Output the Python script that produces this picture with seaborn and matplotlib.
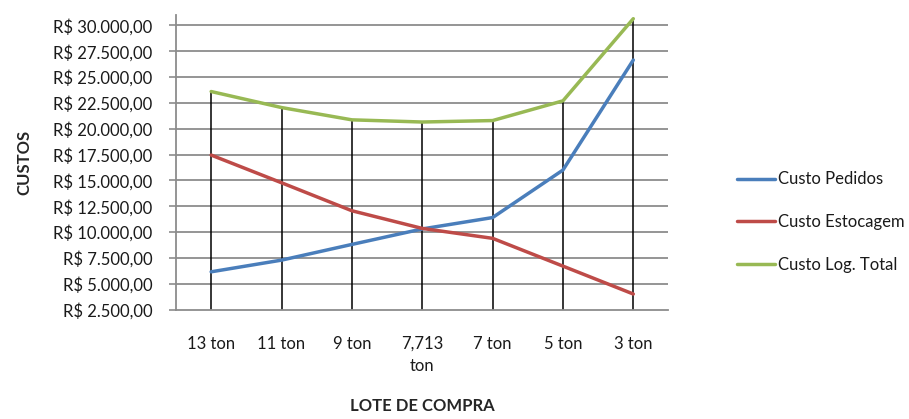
import pandas as pd
import numpy as np
import seaborn as sns
import matplotlib.pyplot as plt

# data
lotes = ['13 ton', '11 ton', '9 ton', '7,713\nton', '7 ton', '5 ton', '3 ton']
custo_pedidos = [6150, 7280, 8800, 10300, 11400, 16000, 26650]
custo_estocagem = [17450, 14770, 12060, 10350, 9390, 6700, 4000]
custo_total = [23600, 22050, 20860, 20650, 20790, 22700, 30650]
series_names = ['Custo Pedidos', 'Custo Estocagem', 'Custo Log. Total']
y_ticks = [2500, 5000, 7500, 10000, 12500, 15000, 17500, 20000,
           22500, 25000, 27500, 30000]

colors = ['#4A7EBB', '#BE4B48', '#98B954']

df = pd.DataFrame({
    'lote': lotes * 3,
    'custo': custo_pedidos + custo_estocagem + custo_total,
    'serie': [s for s in series_names for _ in lotes],
})

sns.set_style('white')
plt.rcParams['font.family'] = ['Lato', 'DejaVu Sans']
plt.rcParams['text.color'] = '#1a1a1a'


def brl(v):
    s = f'{v:,.2f}'
    s = s.replace(',', 'X').replace('.', ',').replace('X', '.')
    return f'R$ {s}'


fig = plt.figure(figsize=(9.09, 4.19), dpi=100)
ax = fig.add_axes([0.1936, 0.2613, 0.7354 - 0.1936, 0.964 - 0.2613])

# horizontal gridlines
for t in y_ticks[1:]:
    ax.axhline(t, color='#8c8c8c', lw=1.3, zorder=0)

sns.lineplot(data=df, x='lote', y='custo', hue='serie', hue_order=series_names,
             palette=colors, sort=False, lw=2.5, ax=ax, legend=True, zorder=3)

# drop lines from the highest series down to the axis
x_pos = np.arange(len(lotes))
tops = np.max([custo_pedidos, custo_estocagem, custo_total], axis=0)
ax.vlines(x_pos, 2500, tops, color='black', lw=1.1, zorder=2)

ax.set_xlim(-0.5, len(lotes) - 0.5)
ax.set_ylim(2500, 31000)
ax.set_yticks(y_ticks)
ax.set_yticklabels([brl(t) for t in y_ticks], fontsize=12, color='#1a1a1a')
ax.set_xticks(x_pos)
ax.set_xticklabels(lotes, fontsize=12, linespacing=1.5, color='#1a1a1a')
ax.tick_params(axis='x', length=0, pad=19)
ax.tick_params(axis='y', length=5, width=1.2, color='#8c8c8c', direction='out',
               left=True, pad=12)

for side in ['top', 'right']:
    ax.spines[side].set_visible(False)
ax.spines['left'].set_color('#8c8c8c')
ax.spines['left'].set_linewidth(1.3)
ax.spines['bottom'].set_color('#8c8c8c')
ax.spines['bottom'].set_linewidth(1.3)

ax.set_xlabel('LOTE DE COMPRA', fontsize=12, fontweight='bold', labelpad=17)
ax.set_ylabel('CUSTOS', fontsize=12, fontweight='bold', labelpad=15)

handles, labels = ax.get_legend_handles_labels()
ax.get_legend().remove()
fig.legend(handles, labels, loc='center left', bbox_to_anchor=(0.794, 0.47),
           frameon=False, fontsize=12, handlelength=2.3, handletextpad=0.15,
           labelspacing=1.6)

plt.savefig('out.png', dpi=100)
